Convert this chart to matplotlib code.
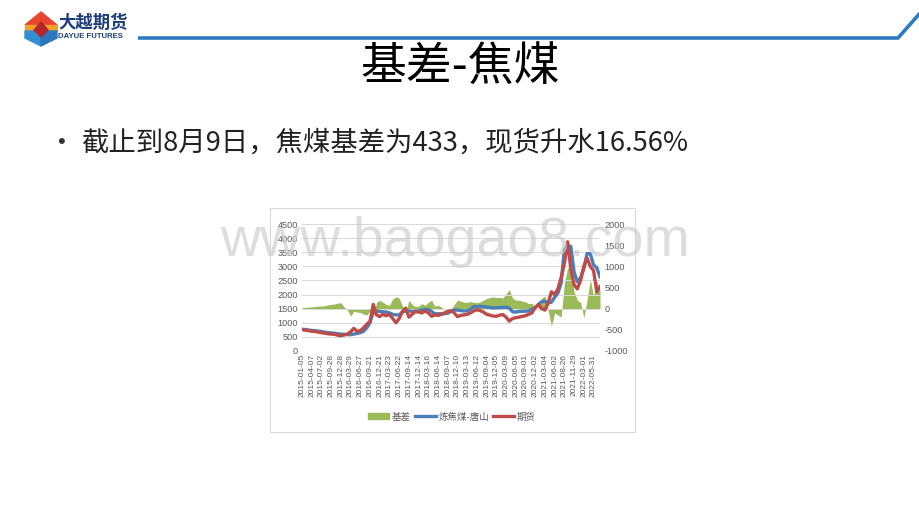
import numpy as np
import matplotlib
matplotlib.use("Agg")
import matplotlib.pyplot as plt
from matplotlib.patches import Rectangle, Polygon, Patch
from matplotlib.lines import Line2D

plt.rcParams['font.family'] = ['Liberation Sans', 'Noto Sans CJK SC', 'DejaVu Sans']
plt.rcParams['axes.unicode_minus'] = False

######### data (one value per ~20 trading days)
tick_labels = ['2015-01-05', '2015-04-07', '2015-07-02', '2015-09-28', '2015-12-28',
               '2016-03-29', '2016-06-27', '2016-09-21', '2016-12-21', '2017-03-23',
               '2017-06-22', '2017-09-14', '2017-12-14', '2018-03-16', '2018-06-14',
               '2018-09-07', '2018-12-10', '2019-03-13', '2019-06-12', '2019-09-04',
               '2019-12-05', '2020-03-09', '2020-06-05', '2020-09-01', '2020-12-02',
               '2021-03-04', '2021-06-02', '2021-08-26', '2021-11-29', '2022-03-01',
               '2022-05-31']

spot = [770, 760, 745, 730, 720, 705, 690, 670, 650, 640,
        630, 610, 600, 590, 580, 580, 600, 620, 650, 700,
        820, 1000, 1420, 1420, 1400, 1390, 1380, 1350, 1300, 1280,
        1280, 1380, 1420, 1420, 1400, 1410, 1420, 1450, 1470, 1470,
        1400, 1320, 1320, 1320, 1320, 1340, 1400, 1450, 1450, 1430,
        1420, 1420, 1480, 1570, 1580, 1580, 1570, 1560, 1540, 1530,
        1530, 1540, 1540, 1550, 1520, 1390, 1380, 1400, 1410, 1410,
        1420, 1480, 1530, 1650, 1750, 1760, 1700, 1730, 1900, 2050,
        2400, 3600, 3750, 3700, 2800, 2450, 2600, 2900, 3450, 3450,
        3050, 2950, 2630]

futures = [760, 740, 720, 700, 690, 670, 650, 630, 610, 600,
           590, 560, 540, 570, 600, 680, 800, 700, 720, 820,
           950, 1050, 1650, 1280, 1220, 1300, 1250, 1300, 1150, 1000,
           1150, 1400, 1520, 1200, 1300, 1400, 1380, 1350, 1420, 1350,
           1230, 1280, 1260, 1300, 1350, 1400, 1430, 1350, 1220, 1260,
           1280, 1300, 1350, 1420, 1460, 1430, 1380, 1300, 1270, 1240,
           1230, 1270, 1290, 1200, 1060, 1150, 1180, 1200, 1230, 1250,
           1300, 1350, 1550, 1650, 1500, 1450, 1700, 2100, 2000, 2200,
           2600, 3100, 3870, 2900, 2350, 2200, 2500, 3000, 3290, 3000,
           2850, 2100, 2280]

basis = [20, 30, 40, 40, 50, 60, 60, 70, 90, 100,
         110, 130, 140, 40, -30, -180, -60, -80, -90, -130,
         -150, -50, -200, 150, 200, 150, 100, 80, 230, 280,
         250, 60, -100, 200, 100, 50, 60, 120, 80, 150,
         200, 60, 80, 40, -30, -40, -20, 100, 200, 180,
         150, 150, 170, 150, 140, 160, 200, 240, 260, 280,
         260, 270, 250, 350, 450, 250, 200, 200, 180, 160,
         120, 130, -20, 0, 250, 300, -50, -420, -100, -150,
         -200, 600, 970, 900, 400, 200, 150, -215, 200, 690,
         300, 645, 430]

legend_names = ['基差', '炼焦煤-唐山', '期货']
##########

step = 20  # trading days between samples
x = np.arange(len(spot)) * step
tick_pos = np.arange(len(tick_labels)) * 60

fig = plt.figure(figsize=(9.2, 5.18), dpi=100)

# page decoration in pixel coords
bg = fig.add_axes([0, 0, 1, 1], zorder=-5)
bg.set_xlim(0, 920)
bg.set_ylim(518, 0)
bg.axis('off')
bg.plot([138, 898, 921], [38, 38, 12], color='#2E7BC4', lw=2.6, solid_capstyle='butt')
# logo
bg.add_patch(Polygon([(41, 12), (57, 25), (25, 25)], color='#E8452C'))
bg.add_patch(Polygon([(25, 25), (57, 25), (57, 31), (25, 31)], color='#F4A12B'))
bg.add_patch(Polygon([(25, 31), (41, 31), (41, 46), (25, 38)], color='#2F8FD0'))
bg.add_patch(Polygon([(41, 31), (57, 31), (57, 38), (41, 46)], color='#2A78BE'))
bg.add_patch(Polygon([(41, 22), (48, 30), (41, 37), (34, 30)], color='#B3262A'))
bg.text(58, 23, '大越期货', fontsize=12.5, fontweight='bold', color='#1D3E7C',
        va='center', ha='left', family=['Noto Sans CJK SC'])
bg.text(58, 36.5, 'DAYUE FUTURES', fontsize=5.6, fontweight='bold', color='#1D3E7C',
        va='center', ha='left')
bg.text(460, 67, '基差-焦煤', fontsize=33, color='black', ha='center', va='center',
        family=['Noto Sans CJK SC', 'DejaVu Sans'])
bg.text(57, 143, '•', fontsize=16, color='#333333', ha='left', va='center')
bg.text(81, 143, '截止到8月9日，焦煤基差为433，现货升水16.56%', fontsize=19.7,
        color='#222222', ha='left', va='center', family=['Noto Sans CJK SC', 'DejaVu Sans'])
bg.add_patch(Rectangle((270, 208), 365, 224, facecolor='white', edgecolor='#d9d9d9', lw=0.8))

# chart
ax = fig.add_axes([302 / 920, 1 - 351 / 518, 298 / 920, 127 / 518])
ax2 = ax.twinx()
ax2.fill_between(x, 0, basis, color='#9BBB59', lw=0, zorder=2)
ax.set_zorder(ax2.get_zorder() + 1)
ax.patch.set_visible(False)

ax.plot(x, spot, color='#4A7EBB', lw=2.4, zorder=3)
ax.plot(x, futures, color='#BE4B48', lw=2.4, zorder=4)

ax.set_xlim(0, x[-1])
ax.set_ylim(0, 4500)
ax.set_yticks(np.arange(0, 4501, 500))
ax2.set_ylim(-1000, 2000)
ax2.set_yticks(np.arange(-1000, 2001, 500))
ax.grid(axis='y', color='#d9d9d9', lw=0.7, zorder=0)
ax.set_xticks(tick_pos)
ax.set_xticklabels(tick_labels, rotation=90)
for a in (ax, ax2):
    for s in a.spines.values():
        s.set_visible(False)
    a.tick_params(length=0, labelsize=6.6, colors='#595959', pad=3)
ax.tick_params(axis='x', labelsize=6.0, pad=2)

handles = [Patch(color='#9BBB59'),
           Line2D([], [], color='#4A7EBB', lw=2.4),
           Line2D([], [], color='#BE4B48', lw=2.4)]
leg = fig.legend(handles, legend_names, loc='center', bbox_to_anchor=(452 / 920, 1 - 417 / 518),
                 ncol=3, frameon=False, handlelength=2.2, handleheight=0.6,
                 handletextpad=0.3, columnspacing=0.4, prop={'family': ['Noto Sans CJK SC'], 'size': 6.8})
for t in leg.get_texts():
    t.set_color('#595959')

fig.text(220 / 920, 1 - 256 / 518, 'www.baogao8.com', fontsize=40, color='#cccccc',
         alpha=0.65, ha='left', va='baseline', family=['Liberation Sans'], zorder=20)

fig.savefig('out.png', dpi=100)
